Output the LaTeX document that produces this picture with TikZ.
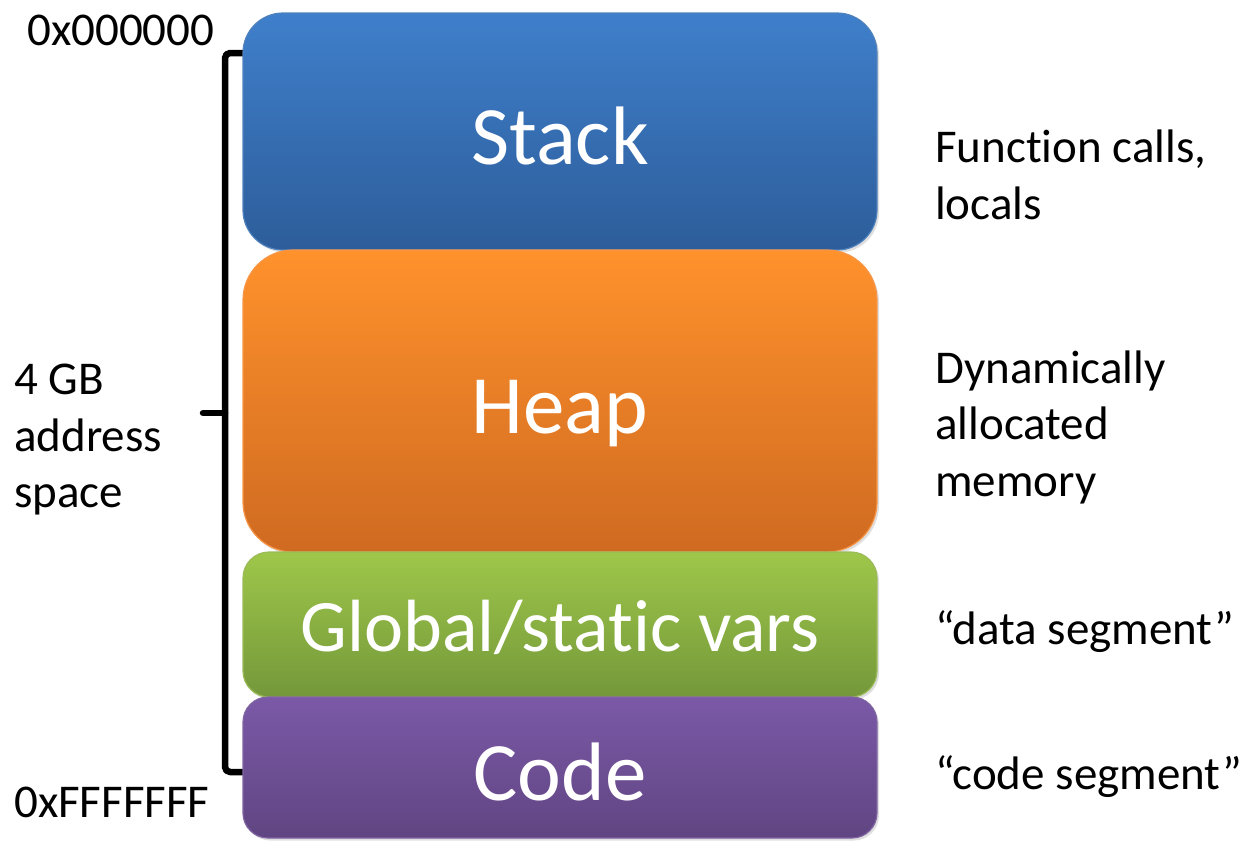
\documentclass[tikz,border=0pt]{standalone}
\usepackage{fontspec}
\setmainfont{Carlito}[Ligatures=NoCommon]
\usetikzlibrary{shadows}
\definecolor{stackTop}{RGB}{63,127,203}
\definecolor{stackBot}{RGB}{45,93,154}
\definecolor{stackLine}{RGB}{79,129,189}
\definecolor{heapTop}{RGB}{255,146,44}
\definecolor{heapBot}{RGB}{207,106,33}
\definecolor{heapLine}{RGB}{247,150,70}
\definecolor{globTop}{RGB}{158,199,74}
\definecolor{globBot}{RGB}{116,152,58}
\definecolor{globLine}{RGB}{155,187,89}
\definecolor{codeTop}{RGB}{123,89,167}
\definecolor{codeBot}{RGB}{96,69,130}
\definecolor{codeLine}{RGB}{128,100,162}
\tikzset{
  seg/.style={rectangle, minimum width=634pt, inner sep=0pt, text=white,
    line width=1.2pt, font=\fontsize{83}{90}\selectfont,
    text height=65pt, text depth=0pt,
    drop shadow={shadow xshift=2pt, shadow yshift=-2.5pt, opacity=0.25}},
  note/.style={anchor=west, align=left, inner sep=0pt, text=black,
    font=\fontsize{47}{56.5}\selectfont},
  brace/.style={line width=6.5pt, line cap=round, line join=round, rounded corners=5pt}
}
\begin{document}
\begin{tikzpicture}[x=1pt,y=-1pt]
\useasboundingbox (0,0) rectangle (1250,841);

% address-range bracket on the left of the segments
\coordinate (bt) at (250,53);
\coordinate (bb) at (250,772);
\coordinate (bm) at (203,413);
\draw[brace] (bt) -- (225,53) -- (225,772) -- (bb);
\draw[brace, rounded corners=3pt] (bm) -- (225,413);

% memory segments
\node[seg, minimum height=237pt, rounded corners=40pt, draw=stackLine,
      top color=stackTop, bottom color=stackBot] (stack) at (560,131.5) {Stack};
\node[seg, minimum height=302pt, rounded corners=50pt, draw=heapLine,
      top color=heapTop, bottom color=heapBot] (heap) at (560,401) {Heap};
\node[seg, minimum height=145pt, rounded corners=26pt, draw=globLine,
      top color=globTop, bottom color=globBot, font=\fontsize{74}{80}\selectfont,
      text height=54pt] (glob) at (560,624.5) {Global/static vars};
\node[seg, minimum height=141pt, rounded corners=25pt, draw=codeLine,
      top color=codeTop, bottom color=codeBot] (code) at (560,767.5) {Code};

% address labels
\node[note, anchor=west] (lo) at (27,30) {0x000000};
\node[note, anchor=west] (hi) at (14,802) {0xFFFFFFF};
\node[note] (size) at (14,440) {4 GB\\address\\space};

% segment descriptions
\node[note] (dstack) at (935,175) {Function calls,\\locals};
\node[note] (dheap) at (935,427) {Dynamically\\allocated\\memory};
\node[note] (dglob) at (935,632) {“data segment”};
\node[note] (dcode) at (935,777) {“code segment”};
\end{tikzpicture}
\end{document}
